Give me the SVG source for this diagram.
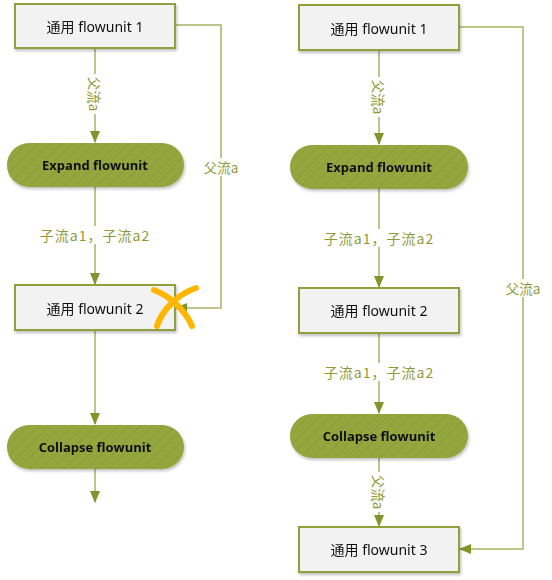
<svg xmlns="http://www.w3.org/2000/svg" width="552" height="580" viewBox="0 0 552 580">
<style>
.box{fill:#F2F2F2;stroke:#8FA03C;stroke-width:2}
.pill{fill:url(#hatch);stroke:none}
.bt{font-family:"Noto Sans","Noto Sans CJK SC",sans-serif;font-size:14px;fill:#111;text-anchor:middle;dominant-baseline:central}
.pt{font-family:"Open Sans","Noto Sans",sans-serif;font-size:13px;font-weight:bold;fill:#111;text-anchor:middle;dominant-baseline:central}
.ln{fill:none;stroke:#BCC58C;stroke-width:2}
.lb{font-family:"Noto Sans CJK SC",sans-serif;font-size:13.5px;fill:#8E9A3A;text-anchor:middle;dominant-baseline:central}
.sub{font-size:14px;letter-spacing:1px}
.bg{fill:#fff}
.x{fill:none;stroke:#FFB600;stroke-width:6;stroke-linecap:round}
</style>
<defs>
<pattern id="hatch" patternUnits="userSpaceOnUse" width="8" height="8" patternTransform="rotate(45)">
<rect width="8" height="8" fill="#94A63E"/>
<line x1="0" y1="0" x2="0" y2="8" stroke="#879A35" stroke-width="1.5"/>
</pattern>
<marker id="ah" markerWidth="12" markerHeight="10" refX="11" refY="5" orient="auto" markerUnits="userSpaceOnUse">
<path d="M0,0 L12,5 L0,10 Z" fill="#7F962A"/>
</marker>
<filter id="sh" x="-10%" y="-20%" width="125%" height="150%">
<feDropShadow dx="1" dy="2" stdDeviation="1.5" flood-color="#000" flood-opacity="0.25"/>
</filter>
</defs>

<g id="connectors">
<line class="ln" x1="95" y1="48" x2="95" y2="142" marker-end="url(#ah)"/>
<line class="ln" x1="95" y1="187" x2="95" y2="284" marker-end="url(#ah)"/>
<line class="ln" x1="95" y1="330" x2="95" y2="424" marker-end="url(#ah)"/>
<line class="ln" x1="95" y1="469" x2="95" y2="502" marker-end="url(#ah)"/>
<polyline class="ln" points="175,25 221,25 221,308 176,308" marker-end="url(#ah)"/>
<line class="ln" x1="379" y1="50" x2="379" y2="144" marker-end="url(#ah)"/>
<line class="ln" x1="379" y1="189" x2="379" y2="287" marker-end="url(#ah)"/>
<line class="ln" x1="379" y1="333" x2="379" y2="413" marker-end="url(#ah)"/>
<line class="ln" x1="379" y1="458" x2="379" y2="526" marker-end="url(#ah)"/>
<polyline class="ln" points="459,27 523,27 523,549 460,549" marker-end="url(#ah)"/>
<rect class="bg" x="88" y="74" width="14" height="40"/>
<text class="lb" transform="translate(95,94) rotate(90)">父流a</text>
<rect class="bg" x="196" y="158" width="50" height="18"/>
<text class="lb" x="221" y="167">父流a</text>
<rect class="bg" x="36" y="226" width="118" height="18"/>
<text class="lb sub" x="95" y="235">子流a1，子流a2</text>
<rect class="bg" x="372" y="77" width="14" height="40"/>
<text class="lb" transform="translate(379,97) rotate(90)">父流a</text>
<rect class="bg" x="320" y="229" width="118" height="18"/>
<text class="lb sub" x="379" y="238">子流a1，子流a2</text>
<rect class="bg" x="320" y="363" width="118" height="18"/>
<text class="lb sub" x="379" y="372">子流a1，子流a2</text>
<rect class="bg" x="372" y="472" width="14" height="40"/>
<text class="lb" transform="translate(379,492) rotate(90)">父流a</text>
<rect class="bg" x="498" y="279" width="50" height="18"/>
<text class="lb" x="523" y="288">父流a</text>
</g>

<g id="l-box1" filter="url(#sh)">
<rect class="box" x="15" y="4" width="160" height="44"/>
<text class="bt" x="95" y="26">通用 flowunit 1</text>
</g>
<g id="l-expand" filter="url(#sh)">
<rect class="pill" x="7" y="143" width="177" height="44" rx="22"/>
<text class="pt" x="95" y="165">Expand flowunit</text>
</g>
<g id="l-box2" filter="url(#sh)">
<rect class="box" x="15" y="285" width="160" height="45"/>
<text class="bt" x="95" y="308">通用 flowunit 2</text>
</g>
<g id="l-collapse" filter="url(#sh)">
<rect class="pill" x="7" y="425" width="177" height="44" rx="22"/>
<text class="pt" x="95" y="447">Collapse flowunit</text>
</g>
<g id="cross">
<path class="x" d="M157,326 C162,310 178,294 196,288"/>
<path class="x" d="M154,290 C170,296 185,310 192,326"/>
</g>

<g id="r-box1" filter="url(#sh)">
<rect class="box" x="299" y="5" width="160" height="45"/>
<text class="bt" x="379" y="28">通用 flowunit 1</text>
</g>
<g id="r-expand" filter="url(#sh)">
<rect class="pill" x="290" y="145" width="178" height="44" rx="22"/>
<text class="pt" x="379" y="167">Expand flowunit</text>
</g>
<g id="r-box2" filter="url(#sh)">
<rect class="box" x="299" y="288" width="160" height="45"/>
<text class="bt" x="379" y="310">通用 flowunit 2</text>
</g>
<g id="r-collapse" filter="url(#sh)">
<rect class="pill" x="290" y="414" width="178" height="44" rx="22"/>
<text class="pt" x="379" y="436">Collapse flowunit</text>
</g>
<g id="r-box3" filter="url(#sh)">
<rect class="box" x="299" y="527" width="160" height="45"/>
<text class="bt" x="379" y="549">通用 flowunit 3</text>
</g>
</svg>
